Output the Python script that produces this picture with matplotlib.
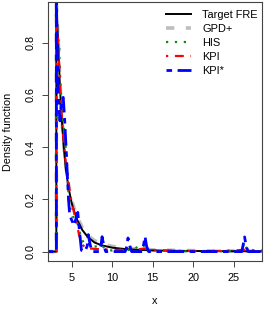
import matplotlib
matplotlib.use("Agg")
import matplotlib.pyplot as plt

plt.rcParams['font.family'] = ['Liberation Sans', 'DejaVu Sans']
plt.rcParams['font.size'] = 7.8

# --- values ---
target_x = [2.0, 3.10, 3.10, 3.2, 3.35, 3.5, 3.7, 3.9, 4.1, 4.3, 4.6, 5.0, 5.3, 5.7,
            6.3, 7.0, 7.8, 8.7, 10.0, 11.5, 13.0, 15.0, 18.0, 21.0, 24.0, 28.5]
target_y = [0.0, 0.0, 0.93, 0.88, 0.78, 0.66, 0.54, 0.45, 0.37, 0.31, 0.245, 0.185, 0.155, 0.12,
            0.083, 0.055, 0.035, 0.024, 0.015, 0.010, 0.007, 0.0045, 0.003, 0.002, 0.0015, 0.001]

gpd_x = target_x
gpd_y = [0.0, 0.0, 0.95, 0.89, 0.79, 0.67, 0.55, 0.46, 0.38, 0.32, 0.255, 0.195, 0.165, 0.13,
         0.092, 0.062, 0.042, 0.030, 0.020, 0.014, 0.010, 0.0065, 0.0045, 0.0032, 0.0024, 0.0018]

his_x = [2.0, 3.15, 3.15, 3.45, 3.5, 3.6, 3.75, 3.95, 4.2, 4.45, 4.6, 4.8, 5.1, 5.5, 5.8,
         6.1, 6.5, 7.0, 7.4, 8.0, 8.7, 9.2, 10.0, 11.9, 12.2, 13.8, 14.2, 16.0, 20.0,
         26.0, 26.3, 26.7, 28.5]
his_y = [0.0, 0.0, 0.83, 0.80, 0.72, 0.65, 0.57, 0.50, 0.42, 0.32, 0.22, 0.17, 0.135, 0.125, 0.10,
         0.06, 0.03, 0.035, 0.015, 0.02, 0.025, 0.008, 0.004, 0.01, 0.003, 0.028, 0.005, 0.002, 0.001,
         0.002, 0.035, 0.004, 0.001]

kpi_x = [2.0, 3.1, 3.1, 3.3, 3.5, 3.7, 3.9, 4.2, 4.5, 4.8, 5.2, 5.6, 5.9, 6.2, 6.6, 7.2,
         8.0, 9.0, 11.0, 13.0, 14.0, 15.0, 18.0, 22.0, 25.0, 26.3, 27.5, 28.5]
kpi_y = [0.0, 0.0, 0.88, 0.82, 0.68, 0.55, 0.46, 0.36, 0.29, 0.22, 0.16, 0.11, 0.065, 0.035, 0.015, 0.012,
         0.010, 0.008, 0.006, 0.008, 0.012, 0.006, 0.003, 0.002, 0.004, 0.007, 0.005, 0.004]

kpis_x = [2.0, 3.1, 3.1, 3.2, 3.25, 3.3, 3.4, 3.55, 3.75, 3.95, 4.1, 4.3, 4.45, 4.6, 4.75,
          5.0, 5.3, 5.55, 5.75, 5.95, 6.2, 6.6, 6.9, 7.05, 7.25, 7.5, 8.4, 8.6, 8.75, 8.95,
          9.2, 11.6, 11.8, 11.95, 12.2, 12.4, 13.7, 13.9, 14.05, 14.25, 14.5,
          26.0, 26.2, 26.35, 26.55, 26.8, 28.5]
kpis_y = [0.0, 0.0, 0.97, 0.80, 0.72, 0.62, 0.56, 0.50, 0.58, 0.59, 0.52, 0.40, 0.30, 0.20, 0.14,
          0.12, 0.10, 0.13, 0.15, 0.08, 0.005, 0.0, 0.02, 0.065, 0.03, 0.0, 0.0, 0.02, 0.057, 0.025,
          0.0, 0.0, 0.02, 0.052, 0.02, 0.0, 0.0, 0.03, 0.058, 0.02, 0.0,
          0.0, 0.03, 0.056, 0.02, 0.0, 0.0]

x_ticks = [5, 10, 15, 20, 25]
y_ticks = [0.0, 0.2, 0.4, 0.6, 0.8]

fig = plt.figure(figsize=(2.66, 3.10), dpi=100)
ax = fig.add_axes([48 / 266, 1 - 261 / 310, 214 / 266, 259 / 310])

l_gpd, = ax.plot(gpd_x, gpd_y, color='#bebebe', lw=2.6, dashes=(2.3, 3.2), label='GPD+')
l_tgt, = ax.plot(target_x, target_y, color='black', lw=1.4, label='Target FRE')
l_his, = ax.plot(his_x, his_y, color='#118a11', lw=1.6, dashes=(1, 3), label='HIS')
l_kpi, = ax.plot(kpi_x, kpi_y, color='red', lw=1.6, dashes=(1, 3, 4, 3), label='KPI')
l_kps, = ax.plot(kpis_x, kpis_y, color='blue', lw=2.0, dashes=(2, 2, 6, 2), label='KPI*')

ax.set_xlim(2.07, 28.5)
ax.set_ylim(-0.036, 0.955)
ax.set_xticks(x_ticks)
ax.set_yticks(y_ticks)
ax.set_yticklabels(['%.1f' % v for v in y_ticks], rotation=90, va='center')
ax.tick_params(length=4.3, width=0.7, color='#444444')
ax.tick_params(axis='y', pad=4.5)
ax.tick_params(axis='x', pad=4.0)
for s in ax.spines.values():
    s.set_color('#444444')
    s.set_linewidth(0.8)

ax.set_xlabel('x', labelpad=10)
ax.set_ylabel('Density function', labelpad=9)

ax.legend(handles=[l_tgt, l_gpd, l_his, l_kpi, l_kps], frameon=False,
          loc='upper left', bbox_to_anchor=(166 / 266, 1 - 10 / 310),
          bbox_transform=fig.transFigure, borderpad=0, borderaxespad=0,
          handlelength=2.3, handletextpad=1.0, labelspacing=0.36, fontsize=7.9)

fig.savefig('out.png', dpi=100)
